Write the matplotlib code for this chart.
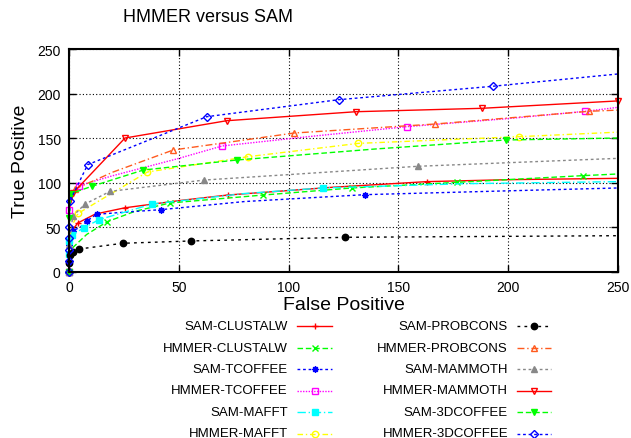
import matplotlib
matplotlib.use('Agg')
import matplotlib.pyplot as plt
from matplotlib.lines import Line2D

plt.rcParams['font.family'] = ['Liberation Sans', 'DejaVu Sans']

# data: (false positive, true positive) per method
sam_clustalw_fp = [0, 0, 0, 1, 4, 12, 25.5, 50, 72.3, 120, 162.8, 200, 250]
sam_clustalw_tp = [0, 20, 35, 45, 55, 65, 72, 80, 86.3, 95, 101.3, 103.5, 105]
hmmer_clustalw_fp = [0, 0, 0, 2, 8, 17.4, 30, 46, 88.5, 128.7, 176.5, 233.9, 250]
hmmer_clustalw_tp = [0, 10, 20, 28, 42, 56.4, 68, 77.4, 86.3, 94.2, 100.5, 108, 109.9]
sam_tcoffee_fp = [0, 0, 0, 0, 1.7, 5, 8.3, 12.6, 25, 41.9, 80, 134.8, 200, 250]
sam_tcoffee_tp = [0, 10, 20, 30, 46.3, 50, 57.5, 64.7, 67, 69.9, 79, 86.7, 91, 94.2]
hmmer_tcoffee_fp = [0, 0, 0, 1, 4.5, 20, 49, 69.8, 110, 153.8, 200, 235, 250]
hmmer_tcoffee_tp = [0, 40, 70, 88, 96.8, 108, 126.7, 141.3, 152, 162.9, 172, 180.1, 184.6]
sam_mafft_fp = [0, 0, 0, 1.5, 6.8, 13.7, 37.9, 80, 115.5, 180, 250]
sam_mafft_tp = [0, 20, 35, 41.5, 49.7, 58.7, 76.2, 88, 94.2, 99, 101.3]
hmmer_mafft_fp = [0, 0, 1, 4.2, 35.7, 81.6, 131.8, 204.9, 250]
hmmer_mafft_tp = [0, 30, 50, 65.8, 112.1, 129.3, 144.2, 151.7, 156.8]
sam_probcons_fp = [0, 0, 0.5, 2, 4.7, 24.5, 55.6, 125.7, 250]
sam_probcons_tp = [0, 10, 19, 22.8, 25.8, 32.2, 34.8, 38.9, 40.7]
hmmer_probcons_fp = [0, 0, 0, 2.7, 20, 47.5, 102.5, 166.7, 237, 250]
hmmer_probcons_tp = [0, 40, 70, 93, 112, 136.8, 155.8, 165.9, 180.2, 181.5]
sam_mammoth_fp = [0, 0, 1.7, 7.3, 18.7, 61.6, 158.8, 250]
sam_mammoth_tp = [0, 30, 62.5, 76.2, 90.4, 103.1, 118.5, 127.4]
hmmer_mammoth_fp = [0, 0, 0, 2, 25.5, 71.8, 130.7, 187.9, 250]
hmmer_mammoth_tp = [0, 40, 70, 89, 150.2, 169.6, 179.7, 183.5, 191.8]
sam_3dcoffee_fp = [0, 0, 0, 1, 10.3, 33.8, 76.6, 140, 198.8, 250]
sam_3dcoffee_tp = [0, 30, 60, 88, 96, 114.3, 125.6, 138, 148, 150.2]
hmmer_3dcoffee_fp = [0, 0, 0, 0, 0, 0.5, 8.5, 62.7, 122.9, 192.9, 250]
hmmer_3dcoffee_tp = [0, 12, 25, 38, 50, 80, 120.3, 174.1, 193.2, 208.2, 222]

series = [
    ('SAM-CLUSTALW', sam_clustalw_fp, sam_clustalw_tp, '#ff0000', '-', '+', True, [0, 2, 4, 6, 8, 10]),
    ('HMMER-CLUSTALW', hmmer_clustalw_fp, hmmer_clustalw_tp, '#00ff00', (0, (4, 2)), 'x', True, [0, 2, 5, 7, 8, 9, 10, 11]),
    ('SAM-TCOFFEE', sam_tcoffee_fp, sam_tcoffee_tp, '#0000ff', (0, (2, 2)), (8, 2, 0), True, [0, 1, 2, 3, 4, 6, 7, 9, 11]),
    ('HMMER-TCOFFEE', hmmer_tcoffee_fp, hmmer_tcoffee_tp, '#ff00ff', (0, (1, 1)), 's', False, [0, 2, 4, 7, 9, 11]),
    ('SAM-MAFFT', sam_mafft_fp, sam_mafft_tp, '#00ffff', (0, (6, 2, 1, 2)), 's', True, [0, 1, 2, 3, 4, 5, 6, 8]),
    ('HMMER-MAFFT', hmmer_mafft_fp, hmmer_mafft_tp, '#ffff00', (0, (4, 2, 1, 2)), 'o', False, [0, 3, 4, 5, 6, 7]),
    ('SAM-PROBCONS', sam_probcons_fp, sam_probcons_tp, '#000000', (0, (2, 3)), 'o', True, [0, 1, 2, 3, 4, 5, 6, 7]),
    ('HMMER-PROBCONS', hmmer_probcons_fp, hmmer_probcons_tp, '#ff5a1e', (0, (5, 2, 1, 2)), '^', False, [0, 3, 5, 6, 7, 8]),
    ('SAM-MAMMOTH', sam_mammoth_fp, sam_mammoth_tp, '#888888', (0, (2, 2)), '^', True, [0, 1, 2, 3, 4, 5, 6]),
    ('HMMER-MAMMOTH', hmmer_mammoth_fp, hmmer_mammoth_tp, '#ff0000', '-', 'v', False, [0, 3, 4, 5, 6, 7, 8]),
    ('SAM-3DCOFFEE', sam_3dcoffee_fp, sam_3dcoffee_tp, '#00ff00', (0, (4, 2)), 'v', True, [0, 2, 3, 4, 5, 6, 8]),
    ('HMMER-3DCOFFEE', hmmer_3dcoffee_fp, hmmer_3dcoffee_tp, '#0000ff', (0, (2, 2)), 'D', False, [0, 1, 2, 3, 4, 5, 6, 7, 8, 9]),
]


def style(color, ls, mk, filled):
    ms = 3.8 if mk == 'D' else 4.6
    return dict(color=color, linestyle=ls, linewidth=1.0, marker=mk, markersize=ms,
                markerfacecolor=color if filled else 'none', markeredgecolor=color,
                markeredgewidth=1.0)


fig = plt.figure(figsize=(6.31, 4.39), dpi=100)
ax = fig.add_axes([69 / 631, 1 - 273 / 439, 549 / 631, 223 / 439])

for name, fp, tp, color, ls, mk, filled, every in series:
    ax.plot(fp, tp, markevery=every, clip_on=False, **style(color, ls, mk, filled))

ax.set_xlim(0, 250)
ax.set_ylim(0, 250)
ax.set_xticks([0, 50, 100, 150, 200, 250])
ax.set_yticks([0, 50, 100, 150, 200, 250])
ax.grid(True, color='black', linestyle=(0, (1, 2)), linewidth=0.8)
ax.tick_params(direction='in', top=True, right=True, length=5, width=1, labelsize=10, pad=6)
for s in ax.spines.values():
    s.set_linewidth(1.5)
ax.set_xlabel('False Positive', fontsize=14, labelpad=1)
ax.set_ylabel('True Positive', fontsize=14, labelpad=6)

fig.text(208 / 631, 1 - 18 / 439, 'HMMER versus SAM', fontsize=13, ha='center', va='center')

# legend, gnuplot style: label right aligned, sample to the right
for i, (name, fp, tp, color, ls, mk, filled, every) in enumerate(series):
    col, row = divmod(i, 6)
    y = 1 - (327 + 21.5 * row) / 439
    tx = (288 if col == 0 else 508) / 631
    x0 = (297 if col == 0 else 517) / 631
    x1 = (332 if col == 0 else 551) / 631
    fig.text(tx, y, name, fontsize=9.5, ha='right', va='center')
    fig.add_artist(Line2D([x0, x1], [y, y], transform=fig.transFigure,
                          markevery=[], **style(color, ls, mk, filled)))
    fig.add_artist(Line2D([(x0 + x1) / 2], [y], transform=fig.transFigure,
                          **dict(style(color, ls, mk, filled), linestyle='none')))

fig.savefig('out.png', dpi=100)
